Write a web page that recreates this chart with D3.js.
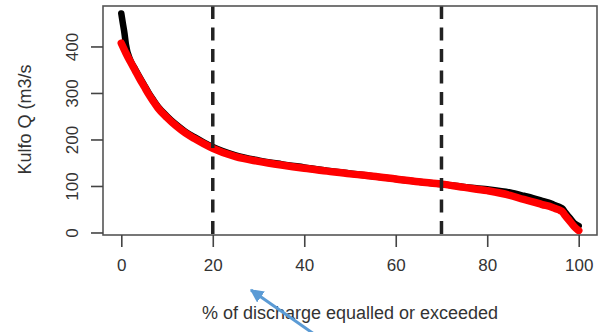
<!DOCTYPE html>
<html>
<head>
<meta charset="utf-8">
<script src="https://cdn.jsdelivr.net/npm/d3@7"></script>
<style>
  html, body { margin: 0; padding: 0; background: #fff; }
  svg { display: block; }
  text { font-family: "Liberation Sans", Arial, sans-serif; fill: #333; }
</style>
</head>
<body>
<div id="chart"></div>
<script>
// Flow duration curve for the Kulfo river: observed (black) vs simulated (red)
const exceedObs = [0, 0.3, 0.7, 1, 2, 3, 4, 5, 6, 7, 8, 10, 12, 14, 16, 18, 20, 25, 30, 35, 40, 45, 50, 55, 60, 65, 70, 75, 80, 85, 88, 90, 92, 94, 95, 96, 96.5, 97, 98, 99, 100];
const flowObs   = [471, 452, 428, 405, 370, 352, 334, 317, 300, 285, 271, 250, 232, 217, 205, 194, 184, 166, 155, 147, 140, 133, 127, 121, 115, 109, 104, 98, 93, 86, 79, 74, 68, 62, 58, 54, 51, 44, 32, 20, 14];

const exceedSim = [0, 1, 2, 3, 4, 5, 6, 7, 8, 10, 12, 14, 16, 18, 20, 25, 30, 35, 40, 45, 50, 55, 60, 65, 70, 75, 80, 85, 88, 90, 92, 94, 95, 96, 96.5, 97, 98, 99, 100];
const flowSim   = [407, 386, 367, 349, 331, 314, 297, 282, 268, 247, 229, 214, 202, 191, 181, 163, 153, 145, 138, 132, 126, 121, 115, 109, 104, 97, 90, 80, 71, 66, 60, 55, 51, 47, 44, 37, 25, 13, 4];

// Threshold lines (Q20 and Q70)
const thresholds = [20, 70];

const xTicks = [0, 20, 40, 60, 80, 100];
const yTicks = [0, 100, 200, 300, 400];

const xTitle = "% of discharge equalled or exceeded";
const yTitle = "Kulfo Q (m3/s";

const W = 603, H = 332;
const box = { left: 103, right: 597, top: 6, bottom: 235 };

const svg = d3.select("#chart").append("svg")
  .attr("width", W).attr("height", H);

const x = d3.scaleLinear().domain([-4, 104]).range([box.left, box.right]);
const y = d3.scaleLinear().domain([-5.4, 487]).range([box.bottom, box.top]);

// Series
const line = d3.line()
  .x(d => x(d[0]))
  .y(d => y(d[1]))
  .curve(d3.curveMonotoneX);

const obs = exceedObs.map((e, i) => [e, flowObs[i]]);
const sim = exceedSim.map((e, i) => [e, flowSim[i]]);

svg.append("path")
  .datum(obs)
  .attr("d", line)
  .attr("fill", "none")
  .attr("stroke", "#000")
  .attr("stroke-width", 6.5)
  .attr("stroke-linecap", "round")
  .attr("stroke-linejoin", "round");

svg.append("path")
  .datum(sim)
  .attr("d", line)
  .attr("fill", "none")
  .attr("stroke", "#ff0000")
  .attr("stroke-width", 7.5)
  .attr("stroke-linecap", "round")
  .attr("stroke-linejoin", "round");

// Dashed vertical threshold lines
svg.selectAll("line.thr")
  .data(thresholds)
  .enter().append("line")
  .attr("class", "thr")
  .attr("x1", d => x(d)).attr("x2", d => x(d))
  .attr("y1", box.top).attr("y2", box.bottom)
  .attr("stroke", "#222")
  .attr("stroke-width", 3.5)
  .attr("stroke-dasharray", "13,8.5");

// Plot frame
svg.append("rect")
  .attr("x", box.left).attr("y", box.top)
  .attr("width", box.right - box.left)
  .attr("height", box.bottom - box.top)
  .attr("fill", "none")
  .attr("stroke", "#555")
  .attr("stroke-width", 1.6);

// Axes
const xAxis = d3.axisBottom(x).tickValues(xTicks).tickSize(12).tickPadding(12).tickFormat(d3.format("d"));
const gx = svg.append("g").attr("transform", `translate(0,${box.bottom})`).call(xAxis);
gx.select(".domain").remove();
gx.selectAll(".tick line").attr("stroke", "#444").attr("stroke-width", 1.6);
gx.selectAll(".tick text")
  .attr("font-size", 17).attr("fill", "#333")
  .style("font-family", "'Liberation Sans', Arial, sans-serif");

const yAxis = d3.axisLeft(y).tickValues(yTicks).tickSize(12).tickFormat(d3.format("d"));
const gy = svg.append("g").attr("transform", `translate(${box.left},0)`).call(yAxis);
gy.select(".domain").remove();
gy.selectAll(".tick line").attr("stroke", "#444").attr("stroke-width", 1.6);
gy.selectAll(".tick text")
  .attr("font-size", 17).attr("fill", "#333")
  .style("font-family", "'Liberation Sans', Arial, sans-serif")
  .attr("x", null).attr("dy", null)
  .attr("text-anchor", "middle")
  .attr("transform", "translate(-25,0) rotate(-90)")
  .attr("y", 0);

// Axis titles
svg.append("text")
  .attr("x", (box.left + box.right) / 2)
  .attr("y", 319)
  .attr("text-anchor", "middle")
  .attr("font-size", 18)
  .text(xTitle);

svg.append("text")
  .attr("transform", `translate(31,${(box.top + box.bottom) / 2 - 1}) rotate(-90)`)
  .attr("text-anchor", "middle")
  .attr("font-size", 18)
  .text(yTitle);

// Blue pointer arrow
const defs = svg.append("defs");
defs.append("marker")
  .attr("id", "arrowhead")
  .attr("viewBox", "0 0 10 10")
  .attr("refX", 9).attr("refY", 5)
  .attr("markerWidth", 4.5).attr("markerHeight", 4.5)
  .attr("markerUnits", "strokeWidth")
  .attr("orient", "auto")
  .append("path")
  .attr("d", "M0,0 L10,5 L0,10 Z")
  .attr("fill", "#5B9BD5");

svg.append("line")
  .attr("x1", 314).attr("y1", 334)
  .attr("x2", 251).attr("y2", 290)
  .attr("stroke", "#5B9BD5")
  .attr("stroke-width", 3)
  .attr("marker-end", "url(#arrowhead)");
</script>
</body>
</html>
